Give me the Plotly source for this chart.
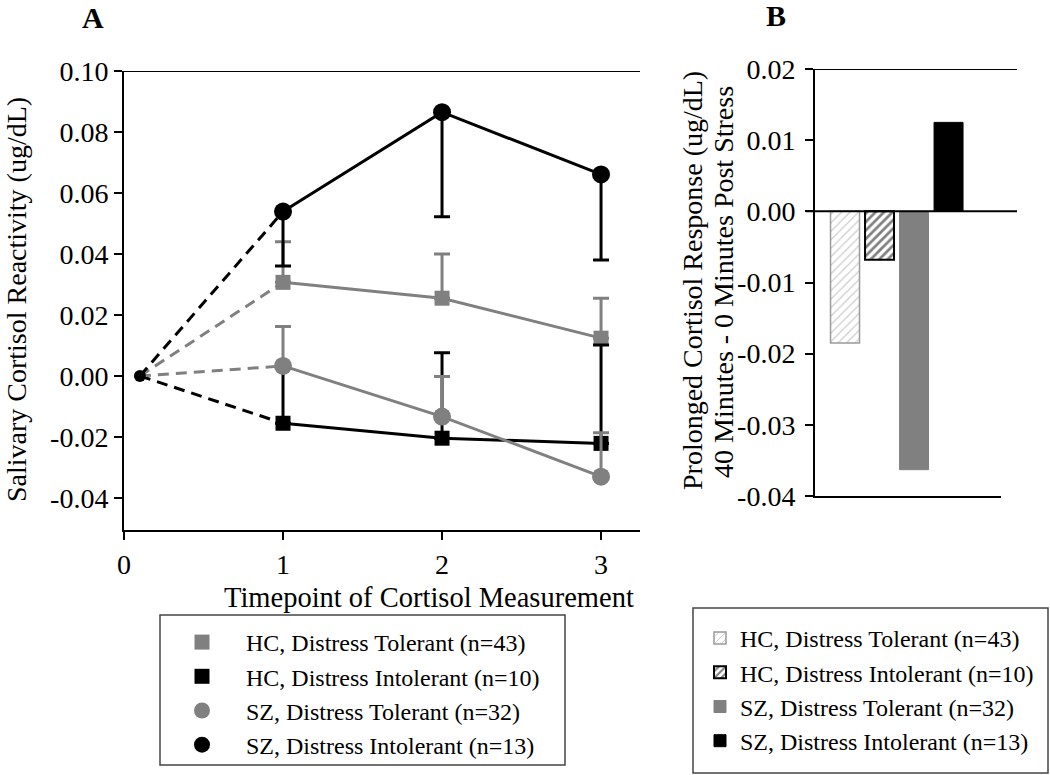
import plotly.graph_objects as go

# ---------------- data ----------------
timepoints = [0.1, 1, 2, 3]
x_ticks = [0, 1, 2, 3]
y_ticks_a = [-0.04, -0.02, 0.00, 0.02, 0.04, 0.06, 0.08, 0.10]
y_tick_labels_a = ["-0.04", "-0.02", "0.00", "0.02", "0.04", "0.06", "0.08", "0.10"]
y_ticks_b = [-0.04, -0.03, -0.02, -0.01, 0.00, 0.01, 0.02]
y_tick_labels_b = ["-0.04", "-0.03", "-0.02", "-0.01", "0.00", "0.01", "0.02"]

group_names = [
    "HC, Distress Tolerant (n=43)",
    "HC, Distress Intolerant (n=10)",
    "SZ, Distress Tolerant (n=32)",
    "SZ, Distress Intolerant (n=13)",
]

hc_tolerant = [0.0, 0.0307, 0.0255, 0.0124]
hc_tolerant_err = [0.0133, 0.0145, 0.0131]
hc_intolerant = [0.0, -0.0155, -0.0204, -0.0221]
hc_intolerant_err = [0.0191, 0.0280, 0.0323]
sz_tolerant = [0.0, 0.0033, -0.0133, -0.0330]
sz_tolerant_err = [0.0129, 0.0131, 0.0144]
sz_intolerant = [0.0, 0.0539, 0.0865, 0.0661]
sz_intolerant_err = [0.0178, 0.0343, 0.0281]

prolonged_response = [-0.0185, -0.0068, -0.0363, 0.0125]

# ---------------- style ----------------
FONT = "Liberation Serif, Times New Roman, serif"
GRAY = "#808080"
BLACK = "#000000"
W, H = 1050, 775

def px_x(p):
    return p / W

def px_y(p):
    return 1 - p / H

fig = go.Figure()

series = [
    (hc_tolerant, hc_tolerant_err, GRAY, "square", 15, "up", group_names[0]),
    (hc_intolerant, hc_intolerant_err, BLACK, "square", 15, "up", group_names[1]),
    (sz_tolerant, sz_tolerant_err, GRAY, "circle", 18, "up", group_names[2]),
    (sz_intolerant, sz_intolerant_err, BLACK, "circle", 18, "down", group_names[3]),
]

# dashed baseline segments and solid segments
for vals, err, col, sym, size, d, name in series:
    fig.add_trace(go.Scatter(
        x=timepoints[:2], y=vals[:2], mode="lines",
        line=dict(color=col, width=3, dash="11px,7px"),
        showlegend=False, hoverinfo="skip", xaxis="x", yaxis="y"))
for vals, err, col, sym, size, d, name in series:
    fig.add_trace(go.Scatter(
        x=timepoints[1:], y=vals[1:], mode="lines",
        line=dict(color=col, width=3),
        showlegend=False, hoverinfo="skip", xaxis="x", yaxis="y"))

# markers with error bars (legend entries)
for vals, err, col, sym, size, d, name in series:
    zeros = [0] * len(err)
    fig.add_trace(go.Scatter(
        x=timepoints[1:], y=vals[1:], mode="markers", name=name,
        marker=dict(color=col, symbol=sym, size=size, line=dict(width=0)),
        error_y=dict(type="data", symmetric=False,
                     array=err if d == "up" else zeros,
                     arrayminus=zeros if d == "up" else err,
                     color=col, thickness=3, width=8),
        legend="legend", xaxis="x", yaxis="y"))

# baseline point
fig.add_trace(go.Scatter(
    x=timepoints[:1], y=sz_intolerant[:1], mode="markers",
    marker=dict(color=BLACK, symbol="circle", size=12),
    showlegend=False, hoverinfo="skip", xaxis="x", yaxis="y"))

# bars panel B
bar_styles = [
    dict(color="white", pattern=dict(shape="/", fgcolor="#9a9a9a", bgcolor="white", size=6, solidity=0.2),
         line=dict(color="#9a9a9a", width=1.5)),
    dict(color="white", pattern=dict(shape="/", fgcolor=BLACK, bgcolor="white", size=6, solidity=0.45),
         line=dict(color=BLACK, width=2)),
    dict(color=GRAY, line=dict(color=GRAY, width=1)),
    dict(color=BLACK, line=dict(color=BLACK, width=1)),
]
for i, (name, val) in enumerate(zip(group_names, prolonged_response)):
    fig.add_trace(go.Bar(
        x=[i], y=[val], name=name, width=0.84, marker=bar_styles[i],
        legend="legend2", xaxis="x2", yaxis="y2"))

axis_common = dict(showline=True, linecolor=BLACK, linewidth=2, ticks="outside",
                   ticklen=8, tickwidth=1.5, tickcolor=BLACK, showgrid=False,
                   zeroline=False, tickfont=dict(family=FONT, size=28, color=BLACK))

fig.update_layout(
    width=W, height=H,
    margin=dict(l=0, r=0, t=0, b=0, pad=0, autoexpand=False),
    paper_bgcolor="white", plot_bgcolor="white",
    font=dict(family=FONT, color=BLACK),
    barmode="overlay",
    xaxis=dict(domain=[px_x(124), px_x(640)], range=[0, 3.245], tickvals=x_ticks,
               anchor="y", automargin=False, **axis_common),
    yaxis=dict(domain=[px_y(530), px_y(71)], range=[-0.0505, 0.10], tickvals=y_ticks_a,
               ticktext=y_tick_labels_a, anchor="x", automargin=False, **axis_common),
    xaxis2=dict(domain=[px_x(815), px_x(1001)], range=[-0.87, 4.52], showline=True,
                linecolor=BLACK, linewidth=2, showticklabels=False, ticks="",
                showgrid=False, zeroline=False, anchor="y2", automargin=False),
    yaxis2=dict(domain=[px_y(496), px_y(69)], range=[-0.04, 0.02], tickvals=y_ticks_b,
                ticktext=y_tick_labels_b, anchor="x2", ticklabelstandoff=4,
                automargin=False, **axis_common),
    legend=dict(x=px_x(158), y=px_y(620), xanchor="left", yanchor="top",
                font=dict(family=FONT, size=24, color=BLACK), bgcolor="rgba(0,0,0,0)",
                borderwidth=0, tracegroupgap=0, itemsizing="trace", itemwidth=78),
    legend2=dict(x=px_x(700), y=px_y(616), xanchor="left", yanchor="top",
                 font=dict(family=FONT, size=24, color=BLACK), bgcolor="rgba(0,0,0,0)",
                 borderwidth=0, tracegroupgap=0),
    showlegend=True,
)

shapes = [
    # top line panel A
    dict(type="line", xref="x domain", yref="y", x0=0, x1=1, y0=0.10, y1=0.10,
         line=dict(color=BLACK, width=2)),
    # top and zero lines panel B
    dict(type="line", xref="paper", yref="y2", x0=px_x(806), x1=px_x(1017), y0=0.02, y1=0.02,
         line=dict(color=BLACK, width=2)),
    dict(type="line", xref="paper", yref="y2", x0=px_x(806), x1=px_x(1017), y0=0.0, y1=0.0,
         line=dict(color=BLACK, width=2)),
    # legend boxes
    dict(type="rect", xref="paper", yref="paper", x0=px_x(160), x1=px_x(565),
         y0=px_y(765), y1=px_y(615), line=dict(color="#444", width=1.5)),
    dict(type="rect", xref="paper", yref="paper", x0=px_x(693), x1=px_x(1048),
         y0=px_y(773), y1=px_y(608), line=dict(color="#444", width=1.5)),
]
fig.update_layout(shapes=shapes)

def ann(text, x, y, size, angle=0):
    return dict(text=text, x=px_x(x), y=px_y(y), xref="paper", yref="paper",
                xanchor="center", yanchor="middle", showarrow=False, textangle=angle,
                font=dict(family=FONT, size=size, color=BLACK))

annotations = [
    ann("<b>A</b>", 93, 18, 30),
    ann("<b>B</b>", 776, 15, 30),
    ann("Salivary Cortisol Reactivity (ug/dL)", 16, 300, 28, -90),
    ann("Timepoint of Cortisol Measurement", 429, 597, 28.5),
    ann("Prolonged Cortisol Response (ug/dL)", 692, 280, 28, -90),
    ann("40 Minutes - 0 Minutes Post Stress", 723, 282, 28, -90),
]
fig.update_layout(annotations=annotations)

fig.write_html(
    "out.html",
    config={"displayModeBar": False},
    post_script="document.body.style.margin='0';document.body.style.overflow='hidden';",
)
